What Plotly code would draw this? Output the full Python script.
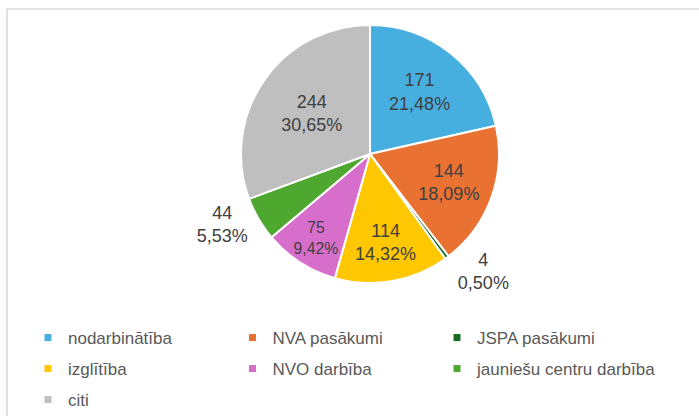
import plotly.graph_objects as go

categories = ["nodarbinātība", "NVA pasākumi", "JSPA pasākumi", "izglītība",
              "NVO darbība", "jauniešu centru darbība", "citi"]
values = [171, 144, 4, 114, 75, 44, 244]
colors = ["#47AFE0", "#E97132", "#196B24", "#FFC700", "#D86ECC", "#4EA72E", "#BFBFBF"]
label_pos = ["inside", "inside", "outside", "inside", "inside", "outside", "inside"]
label_size = [18, 18, 18, 18, 16, 18, 18]
legend_ids = ["legend", "legend", "legend", "legend2", "legend2", "legend4", "legend3"]

FONT = "Liberation Sans, Arial, sans-serif"
W, H = 699, 416
ML, MR = 30, 30
PW = W - ML - MR
COL = 204.5

fig = go.Figure()
fig.add_trace(go.Pie(
    labels=categories, values=values, sort=False, direction="clockwise", rotation=0,
    marker=dict(colors=colors, line=dict(color="white", width=2)),
    texttemplate="%{value}<br>%{percent:.2%}",
    textposition=label_pos,
    insidetextorientation="horizontal",
    textfont=dict(family=FONT, size=label_size, color="#404040"),
    showlegend=False, hoverinfo="label+value+percent",
    domain=dict(x=[0.3302, 0.7340], y=[0.3197, 0.9399]),
))

for cat, col, lg in zip(categories, colors, legend_ids):
    fig.add_trace(go.Scatter(
        x=[None], y=[None], mode="markers", name=cat,
        marker=dict(symbol="square", size=7, color=col),
        legend=lg, showlegend=True,
    ))

def leg(xleft, ytop, ew=COL - 45):
    return dict(orientation="h", xref="container", yref="container",
                x=xleft / W, y=1 - ytop / H, xanchor="left", yanchor="top",
                entrywidth=ew, entrywidthmode="pixels",
                font=dict(family=FONT, size=17, color="#595959"),
                bgcolor="rgba(0,0,0,0)", traceorder="normal")

X0 = 28
fig.update_layout(
    width=W, height=H,
    margin=dict(l=ML, r=MR, t=0, b=0, autoexpand=False),
    paper_bgcolor="white", plot_bgcolor="white",
    separators=", ",
    xaxis=dict(visible=False), yaxis=dict(visible=False),
    legend=leg(X0, 320), legend2=leg(X0, 351), legend3=leg(X0, 382),
    legend4=leg(X0 + 2 * COL, 351, 220),
    shapes=[dict(type="rect", xref="paper", yref="paper",
                 x0=(7 - ML) / PW, x1=1.3, y0=-0.3, y1=1 - 9 / H,
                 line=dict(color="#D9D9D9", width=1.5), fillcolor="rgba(0,0,0,0)",
                 layer="below")],
)

fig.write_html("out.html", config={"displayModeBar": False},
               post_script="document.body.style.margin='0';")
